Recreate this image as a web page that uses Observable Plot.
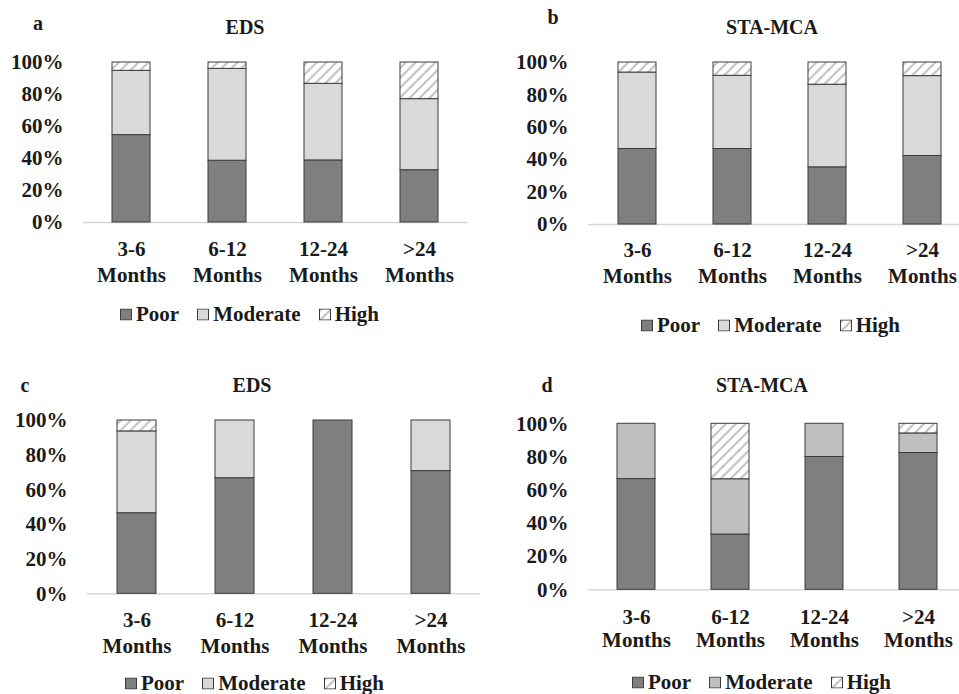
<!DOCTYPE html>
<html><head><meta charset="utf-8">
<script src="https://cdn.jsdelivr.net/npm/d3@7"></script>
<script src="https://cdn.jsdelivr.net/npm/@observablehq/plot@0.6"></script>
<style>
body{margin:0;background:#fff;width:959px;height:694px;overflow:hidden;position:relative;font-family:'Liberation Serif',serif;font-weight:bold;color:#1a1a1a}
.abs{position:absolute;font-family:'Liberation Serif',serif}
.title{font-size:20px;transform:translate(-50%,-50%);white-space:nowrap}
.letter{font-size:20px;transform:translate(-50%,-50%)}
.legend{display:flex;align-items:center;font-size:21px;transform:translateY(-50%);white-space:nowrap;line-height:1}
.item{display:flex;align-items:center;margin-right:18px}
.item svg{margin-right:4px;display:block}
svg text{font-family:'Liberation Serif',serif}
</style>
</head><body>
<svg width="0" height="0" style="position:absolute">
  <defs>
    <pattern id="hatch" patternUnits="userSpaceOnUse" width="7" height="7" patternTransform="rotate(45)">
      <rect width="7" height="7" fill="#ffffff"/>
      <line x1="2" y1="0" x2="2" y2="7" stroke="#c4c4c4" stroke-width="2.2"/>
    </pattern>
  </defs>
</svg>
<script>
// ---- data ----
const categories = ["3-6 Months", "6-12 Months", "12-24 Months", ">24 Months"];
const tickLabels = ["3-6\nMonths", "6-12\nMonths", "12-24\nMonths", ">24\nMonths"];
const levels = ["Poor", "Moderate", "High"];
const yTicks = [0, 0.2, 0.4, 0.6, 0.8, 1.0];
const titles = ["EDS", "STA-MCA", "EDS", "STA-MCA"];
const letters = ["a", "b", "c", "d"];

const poorA = [54.6, 38.6, 38.8, 32.7];
const moderateA = [40.2, 57.4, 47.9, 44.4];
const highA = [5.2, 4.0, 13.3, 22.9];

const poorB = [46.6, 46.6, 35.3, 42.3];
const moderateB = [47.2, 45.2, 51.0, 49.3];
const highB = [6.2, 8.2, 13.7, 8.4];

const poorC = [46.5, 66.7, 100, 70.8];
const moderateC = [47.2, 33.3, 0, 29.2];
const highC = [6.3, 0, 0, 0];

const poorD = [66.7, 33.3, 80.0, 82.4];
const moderateD = [33.3, 33.3, 20.0, 11.8];
const highD = [0, 33.4, 0, 5.8];

// ---- layout (positions/styles) ----
const layout = [
  {left:0,   top:0,   width:480, height:300, mL:83,  mR:13, mT:62,   mB:78,    dy:38.5, lh:1.2,  mod:"#d9d9d9",
   title:[245,27], letter:[38,23], legend:[120,314]},
  {left:480, top:0,   width:500, height:300, mL:108, mR:9,  mT:62,   mB:76,    dy:37.5, lh:1.2,  mod:"#d9d9d9",
   title:[772,27], letter:[553,17], legend:[641,325]},
  {left:0,   top:370, width:480, height:324, mL:87,  mR:0,  mT:50,   mB:100.7, dy:37.7, lh:1.24, mod:"#d9d9d9",
   title:[252,385], letter:[25,385], legend:[125,683]},
  {left:480, top:370, width:500, height:324, mL:108, mR:14, mT:53.3, mB:104.7, dy:38.7, lh:1.08, mod:"#bfbfbf",
   title:[762,385], letter:[547,385], legend:[632,682]}
];
const series = [
  [poorA, moderateA, highA],
  [poorB, moderateB, highB],
  [poorC, moderateC, highC],
  [poorD, moderateD, highD]
];

function addDiv(cls, x, y, html) {
  const d = document.createElement("div");
  d.className = "abs " + cls;
  d.style.left = x + "px";
  d.style.top = y + "px";
  d.innerHTML = html;
  document.body.appendChild(d);
  return d;
}

series.forEach((s, p) => {
  const L = layout[p];
  const rows = [];
  categories.forEach((c, i) => {
    levels.forEach((lv, k) => {
      const v = s[k][i];
      if (v > 0) rows.push({cat: c, level: lv, value: v / 100});
    });
  });
  const colors = ["#7f7f7f", L.mod, "url(#hatch)"];
  const chart = Plot.plot({
    width: L.width, height: L.height,
    marginLeft: L.mL, marginRight: L.mR, marginTop: L.mT, marginBottom: L.mB,
    x: {domain: categories, paddingInner: 0.6, paddingOuter: 0.3, axis: null},
    y: {domain: [0, 1], ticks: yTicks, tickFormat: d => Math.round(d * 100) + "%", tickSize: 0, tickPadding: 20, label: null},
    color: {domain: levels, range: colors},
    style: {fontFamily: "Liberation Serif", fontSize: "21px", fontWeight: "bold", color: "#1a1a1a", background: "transparent", overflow: "visible"},
    marks: [
      Plot.ruleY([0], {stroke: "#d6d6d6", strokeWidth: 1.5}),
      Plot.barY(rows, {x: "cat", y: "value", fill: "level", stroke: "#3c3c3c", strokeWidth: 1}),
      Plot.text(categories, {x: d => d, text: tickLabels, frameAnchor: "bottom", lineAnchor: "middle", dy: L.dy, lineHeight: L.lh, fontSize: 21})
    ]
  });
  chart.style.position = "absolute";
  chart.style.left = L.left + "px";
  chart.style.top = L.top + "px";
  chart.style.fontFamily = "'Liberation Serif', serif";
  document.body.appendChild(chart);

  addDiv("title", L.title[0], L.title[1], titles[p]);
  addDiv("letter", L.letter[0], L.letter[1], letters[p]);
  const items = levels.map((lv, k) =>
    `<div class="item"><svg width="12" height="12"><rect x="0.5" y="0.5" width="11" height="11" fill="${colors[k]}" stroke="#3c3c3c" stroke-width="1"/></svg>${lv}</div>`
  ).join("");
  addDiv("legend", L.legend[0], L.legend[1], items);
});
</script>
</body></html>
